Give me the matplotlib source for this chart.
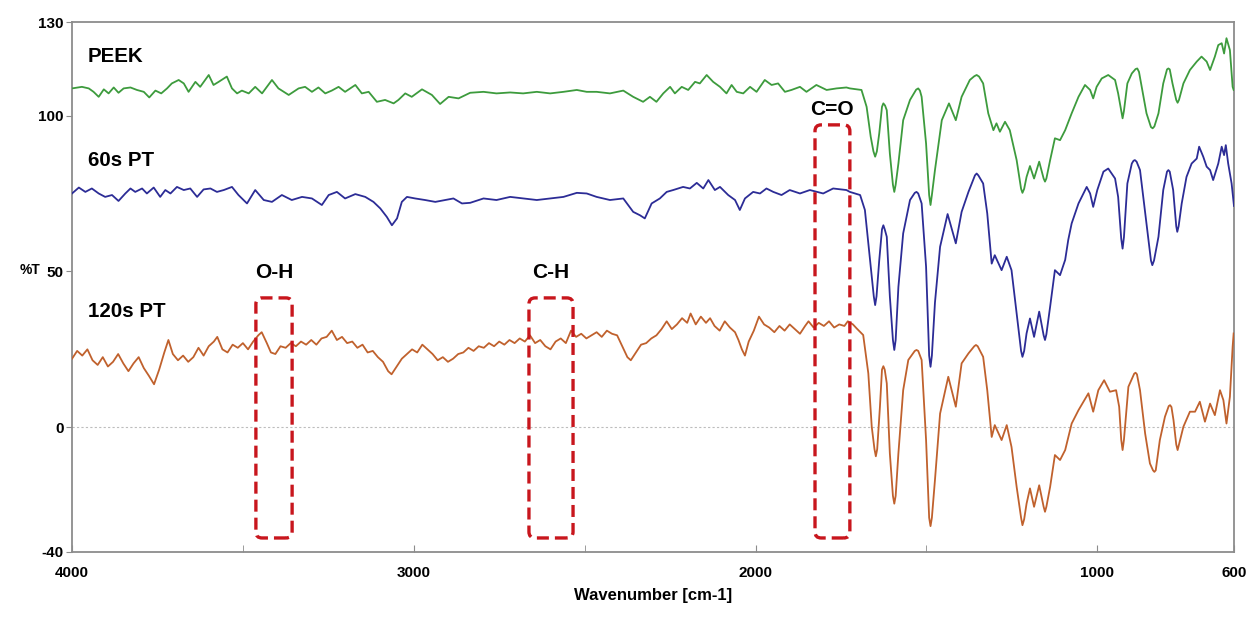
import matplotlib
matplotlib.use("Agg")
import numpy as np
import matplotlib.pyplot as plt
from matplotlib.patches import FancyBboxPatch

plt.rcParams['font.family'] = ['Liberation Sans', 'DejaVu Sans']
plt.rcParams['font.weight'] = 'bold'
plt.rcParams['axes.unicode_minus'] = False

# ---------------- data ----------------
peek_wn = [4000, 3971, 3951, 3937, 3922, 3907, 3893, 3878, 3864, 3849,
           3829, 3810, 3790, 3774, 3756, 3739, 3722, 3708, 3688, 3673,
           3659, 3639, 3625, 3600, 3586, 3571, 3547, 3532, 3517, 3503,
           3483, 3464, 3444, 3415, 3396, 3366, 3337, 3318, 3298, 3279,
           3259, 3240, 3220, 3201, 3171, 3152, 3132, 3108, 3084, 3059,
           3045, 3025, 3006, 2976, 2947, 2923, 2898, 2869, 2835,
           2796, 2758, 2718, 2680, 2640, 2601, 2562, 2523, 2494, 2465,
           2426, 2387, 2358, 2329, 2309, 2290, 2270, 2250, 2236, 2216,
           2197, 2177, 2163, 2143, 2124, 2104, 2085, 2070, 2055, 2036,
           2016, 1997, 1973, 1953, 1934, 1914, 1895, 1870, 1851, 1822,
           1792, 1763, 1734,
           1724, 1690, 1675, 1663, 1650, 1638, 1626, 1616, 1607, 1594,
           1582, 1568, 1548, 1524, 1514, 1501, 1488, 1475, 1455, 1434,
           1414, 1397, 1373, 1353, 1334, 1319, 1304, 1295, 1285, 1270,
           1256, 1236, 1219, 1207, 1197, 1185, 1170, 1153, 1138, 1124,
           1109, 1094, 1075, 1055, 1036, 1021, 1012, 1002, 987, 968,
           948, 939, 926, 912, 899, 883, 870, 856, 838, 821,
           807, 792, 780, 765, 748, 729, 709, 695, 680, 670,
           656, 646, 636, 629, 622, 612, 604, 601]
peek_t = [108.7, 109.2, 108.7, 107.6, 106.0, 108.4, 107.1, 109.0, 107.3, 108.7,
          109.0, 108.2, 107.6, 105.8, 108.0, 107.1, 108.7, 110.3, 111.4, 110.3,
          107.6, 110.8, 109.2, 113.0, 109.8, 110.8, 112.5, 108.7, 107.1, 108.0,
          107.1, 109.2, 107.1, 111.4, 108.7, 106.6, 108.7, 109.2, 107.6, 109.0,
          107.1, 108.0, 109.2, 107.6, 109.8, 107.1, 107.6, 104.4, 105.0, 103.9,
          105.0, 107.1, 106.0, 108.4, 106.6, 103.7, 106.0, 105.5, 107.3,
          107.6, 107.1, 107.4, 107.1, 107.6, 107.1, 107.6, 108.2, 107.6, 107.6,
          107.1, 108.0, 106.0, 104.4, 106.0, 104.4, 107.1, 109.2, 107.1, 109.2,
          108.2, 110.8, 110.3, 113.0, 110.8, 109.2, 107.1, 109.8, 107.6, 107.1,
          109.2, 107.6, 111.4, 109.8, 110.3, 107.6, 108.2, 109.2, 107.6, 109.8,
          108.2, 108.7, 109.0,
          108.7, 108.2, 102.8, 93.2, 86.8, 94.3, 103.9, 101.7, 87.8, 75.5,
          84.6, 98.5, 105.0, 108.7, 106.0, 91.0, 71.3, 82.5, 98.5, 103.9,
          98.5, 106.0, 111.4, 113.0, 110.3, 100.7, 95.3, 97.5, 94.8, 98.0,
          95.3, 85.7, 75.2, 80.3, 83.8, 79.8, 85.2, 78.8, 85.7, 92.7,
          92.1, 95.3, 100.7, 106.0, 109.8, 108.2, 105.5, 109.2, 111.9, 113.0,
          111.4, 107.1, 99.1, 110.3, 113.5, 115.1, 109.2, 100.7, 95.9, 100.7,
          110.3, 115.1, 110.3, 104.1, 110.3, 114.6, 117.3, 118.9, 117.3, 114.6,
          118.9, 122.6, 123.2, 119.9, 124.8, 121.0, 109.2, 108.2]
# extra readings around the band extrema (rounded tips)
peek_wn_extra = [1655, 1645, 1630, 1621, 1598, 1590, 1530, 1519, 1492, 1484,
                 1360, 1346, 1223, 1214, 1157, 1149, 930, 922, 888, 878,
                 843, 833, 796, 788, 769, 761]
peek_t_extra = [88.5, 88.5, 102.8, 103.2, 77.8, 77.8, 108.3, 108.0, 74.5, 74.5,
                112.6, 112.5, 76.5, 76.5, 79.8, 79.8, 101.5, 101.5, 114.9, 114.0,
                96.3, 96.5, 114.8, 114.8, 105.0, 105.0]

pt60_wn = [4000, 3980, 3961, 3942, 3922, 3903, 3883, 3864, 3844, 3829,
           3815, 3795, 3781, 3761, 3742, 3727, 3712, 3693, 3673, 3654,
           3634, 3615, 3595, 3576, 3556, 3532, 3513, 3488, 3464, 3439,
           3415, 3386, 3357, 3327, 3298, 3269, 3249, 3225, 3201, 3171,
           3142, 3118, 3098, 3079, 3064, 3049, 3035, 3020, 2996, 2967,
           2937, 2908, 2884, 2859, 2835,
           2796, 2758, 2718, 2680, 2640, 2601, 2562, 2523, 2494, 2465,
           2426, 2387, 2358, 2338, 2324, 2304, 2280, 2260, 2241, 2212,
           2192, 2172, 2153, 2138, 2119, 2104, 2080, 2060, 2046, 2031,
           2007, 1987, 1968, 1948, 1924, 1900, 1870, 1841, 1802, 1773,
           1734,
           1724, 1694, 1680, 1667, 1650, 1638, 1626, 1616, 1607, 1594,
           1582, 1568, 1548, 1529, 1514, 1501, 1488, 1475, 1460, 1438,
           1414, 1397, 1377, 1353, 1334, 1322, 1309, 1300, 1280, 1265,
           1251, 1236, 1219, 1207, 1197, 1185, 1170, 1153, 1138, 1124,
           1109, 1094, 1085, 1075, 1055, 1031, 1021, 1012, 1000, 982,
           968, 948, 939, 926, 912, 899, 890, 875, 856, 839,
           821, 807, 792, 778, 766, 753, 739, 724, 709, 702,
           690, 680, 670, 661, 646, 636, 629, 624, 617, 607,
           602, 600]
pt60_t = [75.0, 76.9, 75.5, 76.6, 75.0, 73.9, 74.5, 72.6, 75.0, 76.6,
          75.5, 76.6, 75.0, 76.9, 73.9, 76.1, 75.0, 77.1, 76.1, 76.6,
          73.9, 76.3, 76.6, 75.5, 76.1, 77.1, 74.5, 71.8, 76.1, 72.9,
          72.3, 74.5, 72.9, 73.9, 73.4, 71.3, 74.5, 75.5, 73.4, 74.8,
          73.9, 72.3, 70.2, 67.5, 64.8, 67.0, 72.3, 73.9, 73.4, 72.9,
          72.3, 72.9, 73.4, 71.8, 72.0,
          73.4, 72.9, 73.9, 73.4, 72.9, 73.4, 73.9, 75.2, 75.0, 73.9,
          72.9, 73.4, 69.1, 68.0, 67.0, 71.8, 73.4, 75.5, 76.1, 77.1,
          76.6, 78.4, 76.6, 79.3, 76.1, 77.1, 74.5, 72.9, 69.7, 73.4,
          75.5, 75.0, 76.6, 75.5, 74.5, 76.1, 75.0, 76.1, 75.0, 76.6,
          76.1,
          75.5, 74.5, 69.7, 55.7, 39.2, 53.6, 64.8, 61.1, 42.0, 24.8,
          45.0, 62.2, 72.9, 75.5, 71.8, 51.5, 19.4, 40.0, 57.9, 68.4,
          59.0, 69.1, 75.5, 81.4, 78.2, 68.6, 52.5, 55.2, 50.4, 54.7,
          50.4, 36.5, 22.6, 30.1, 34.9, 29.0, 37.1, 28.0, 38.7, 50.4,
          48.8, 53.7, 60.1, 65.4, 71.8, 77.1, 75.0, 70.7, 76.1, 82.0,
          83.0, 79.8, 73.9, 57.3, 78.2, 84.6, 85.7, 82.5, 65.4, 52.0,
          61.1, 76.1, 82.5, 76.1, 62.7, 71.8, 80.3, 84.6, 86.2, 90.0,
          86.8, 83.6, 82.5, 79.3, 84.6, 90.0, 87.3, 90.5, 84.6, 78.2,
          72.9, 71.0]
pt60_wn_extra = [1654, 1646, 1630, 1622, 1598, 1590, 1534, 1524, 1492, 1484,
                 1358, 1348, 1223, 1214, 1157, 1149, 930, 922, 894, 885,
                 843, 834, 796, 788, 769, 762]
pt60_t_extra = [42.0, 42.0, 63.5, 63.5, 28.0, 28.0, 75.2, 75.0, 23.0, 23.0,
                80.8, 80.8, 24.5, 24.5, 29.5, 29.8, 60.5, 61.0, 85.5, 85.2,
                53.5, 53.5, 82.0, 82.0, 64.5, 64.5]

pt120_wn = [4000, 3985, 3970, 3955, 3940, 3925, 3910, 3895, 3880, 3865,
            3850, 3835, 3820, 3805, 3790, 3775, 3760, 3745, 3730, 3718,
            3705, 3690, 3675, 3660, 3645, 3630, 3615, 3600, 3585, 3575,
            3560, 3545, 3530, 3515, 3500, 3485, 3470, 3455, 3445, 3430,
            3418, 3405, 3390, 3375, 3360, 3345, 3330, 3315, 3300, 3285,
            3270, 3255, 3240, 3225, 3210, 3195, 3180, 3165, 3150, 3135,
            3120, 3105, 3090, 3075, 3065, 3050, 3035, 3020, 3005, 2990,
            2975, 2960, 2945, 2930, 2915, 2900, 2885, 2870, 2855, 2840,
            2825, 2810, 2795, 2780, 2765, 2750, 2735, 2720, 2705, 2690,
            2675, 2660, 2645, 2630, 2615, 2600, 2585, 2570, 2555, 2540,
            2525, 2510, 2495, 2480, 2465, 2450, 2435, 2420, 2405, 2390,
            2375, 2365, 2350, 2335, 2320, 2305, 2290, 2275, 2260, 2245,
            2230, 2215, 2200, 2190, 2175, 2160, 2145, 2133, 2120, 2105,
            2090, 2075, 2060, 2050, 2040, 2031, 2020, 2005, 1990, 1975,
            1960, 1945, 1930, 1915, 1900, 1885, 1870, 1855, 1845, 1830,
            1815, 1800, 1785, 1770, 1755, 1740, 1730,
            1715, 1704, 1685, 1670, 1660, 1648, 1636, 1626, 1616, 1607,
            1594, 1582, 1568, 1553, 1529, 1514, 1501, 1488, 1475, 1460,
            1436, 1414, 1397, 1377, 1355, 1334, 1322, 1309, 1300, 1280,
            1265, 1251, 1236, 1219, 1207, 1197, 1185, 1170, 1153, 1138,
            1124, 1109, 1094, 1075, 1055, 1026, 1012, 997, 980, 963,
            945, 936, 926, 909, 888, 875, 860, 846, 833, 817,
            802, 787, 777, 765, 748, 729, 714, 700, 685, 670,
            656, 641, 631, 622, 612, 604, 601]
pt120_t = [22.0, 24.5, 23.0, 25.0, 21.5, 20.0, 22.5, 19.5, 21.0, 23.5,
           20.5, 18.0, 20.5, 22.5, 19.0, 16.5, 13.8, 18.5, 24.0, 28.0,
           23.5, 21.5, 23.0, 21.0, 22.5, 25.5, 23.0, 26.0, 27.5, 29.0,
           25.0, 24.0, 26.5, 25.5, 27.0, 25.0, 27.5, 29.5, 30.5, 27.0,
           24.0, 23.5, 26.0, 25.5, 27.0, 26.0, 27.5, 26.5, 28.0, 26.5,
           28.5, 29.0, 31.0, 28.0, 29.0, 27.0, 27.5, 25.5, 26.5, 24.0,
           24.5, 22.5, 21.0, 18.0, 17.0, 19.5, 22.0, 23.5, 25.0, 24.0,
           26.5, 25.0, 23.5, 21.5, 22.5, 21.0, 22.0, 23.5, 24.0, 25.5,
           24.5, 26.0, 25.5, 27.0, 26.0, 27.5, 26.5, 28.0, 27.0, 28.5,
           27.5, 29.5, 27.0, 28.0, 26.0, 25.0, 27.5, 28.5, 27.0, 31.0,
           29.0, 30.0, 28.5, 29.5, 30.5, 29.0, 31.0, 30.0, 29.5, 26.0,
           22.5, 21.5, 24.0, 26.5, 27.0, 28.5, 29.5, 31.5, 34.0, 31.5,
           33.0, 35.0, 33.5, 36.5, 33.0, 35.5, 33.5, 35.0, 32.5, 31.0,
           34.0, 32.0, 30.5, 28.0, 25.0, 23.0, 27.5, 31.0, 35.5, 33.0,
           32.0, 30.5, 32.5, 31.0, 33.0, 31.5, 30.0, 32.5, 34.0, 32.0,
           33.5, 32.5, 34.0, 32.0, 33.0, 32.5, 34.0,
           33.0, 31.7, 29.6, 17.3, 0.2, -9.3, 6.6, 19.6, 14.1, -8.4,
           -24.5, -8.4, 11.9, 21.6, 24.8, 21.6, -4.1, -31.7, -16.9, 4.4,
           16.2, 6.6, 20.5, 23.7, 26.4, 22.6, 11.9, -3.1, 0.7, -4.1,
           0.7, -6.3, -19.1, -31.4, -24.5, -19.6, -25.5, -18.6, -27.1, -19.1,
           -8.9, -10.5, -7.3, 1.2, 5.5, 10.9, 5.0, 11.9, 15.1, 11.4,
           11.9, 6.6, -7.3, 13.0, 17.5, 11.9, -2.0, -11.6, -14.3, -4.1,
           3.4, 7.1, 2.3, -7.3, 0.2, 5.0, 5.0, 8.2, 1.8, 7.6,
           3.9, 11.9, 8.7, 1.2, 9.8, 25.8, 30.1]
pt120_wn_extra = [1652, 1644, 1630, 1622, 1598, 1590, 1534, 1524, 1492, 1484,
                  1360, 1350, 1223, 1214, 1157, 1149, 930, 922, 892, 884,
                  837, 829, 791, 783, 769, 761]
pt120_t_extra = [-7.0, -7.0, 18.5, 18.5, -22.0, -22.0, 24.5, 24.5, -29.0, -29.0,
                 26.0, 26.0, -29.0, -29.5, -25.5, -25.5, -4.0, -4.0, 17.2, 17.0,
                 -13.8, -13.8, 6.8, 6.5, -5.5, -5.5]

series_names = ['PEEK', '60s PT', '120s PT']
series_colors = ['#3d9b3d', '#2c2c96', '#c0612d']
label_pos = [(3953, 118.8), (3953, 85.7), (3953, 37.3)]

# band boxes: (label, wn_low, wn_high, t_low, t_high, label_t)
bands = [('O-H', 3356, 3462, -35.5, 41.5, 49.8),
         ('C-H', 2534, 2663, -35.5, 41.5, 49.8),
         ('C=O', 1724, 1826, -35.5, 97.0, 101.8)]


def merged(wn, t, wn_x, t_x):
    w = np.array(wn + wn_x, dtype=float)
    v = np.array(t + t_x, dtype=float)
    order = np.argsort(-w)
    return w[order], v[order]


# ---------------- plot ----------------
fig = plt.figure(figsize=(12.57, 6.18), dpi=100)
ax = fig.add_axes([0.0573, 0.1068, 0.9244, 0.8576])

curves = [merged(peek_wn, peek_t, peek_wn_extra, peek_t_extra),
          merged(pt60_wn, pt60_t, pt60_wn_extra, pt60_t_extra),
          merged(pt120_wn, pt120_t, pt120_wn_extra, pt120_t_extra)]
for (wn, t), c in zip(curves, series_colors):
    ax.plot(wn, t, color=c, lw=1.3, zorder=3, solid_joinstyle='round')

ax.axhline(0, color='#bdbdbd', lw=0.8, ls=(0, (2, 2)), zorder=1)

for name, (x, y) in zip(series_names, label_pos):
    ax.text(x, y, name, fontsize=14.8, fontweight='bold', ha='left', va='center')

for name, lo, hi, b, t, ly in bands:
    box = FancyBboxPatch((lo, b), hi - lo, t - b,
                         boxstyle='round,pad=0,rounding_size=18',
                         mutation_aspect=0.11, fill=False,
                         ec='#c8161d', lw=2.4, ls=(0, (3.6, 1.8)), zorder=4)
    ax.add_patch(box)
    ax.text((lo + hi) / 2, ly, name, fontsize=15, fontweight='bold',
            ha='center', va='center')

ax.set_xlim(4000, 600)
ax.set_ylim(-40, 130)
ax.set_xticks([4000, 3000, 2000, 1000, 600])
ax.set_xticks([3500, 2500, 1500], minor=True)
ax.set_yticks([130, 100, 50, 0, -40])
ax.tick_params(axis='x', which='both', direction='in', length=5, color='#8c8c8c',
               labelsize=11, pad=10)
ax.tick_params(axis='y', direction='out', length=4, color='#8c8c8c',
               labelsize=11, pad=2)
for lab in ax.get_xticklabels() + ax.get_yticklabels():
    lab.set_fontweight('bold')

for sp in ax.spines.values():
    sp.set_color('#8c8c8c')
    sp.set_linewidth(1.3)

ax.set_xlabel('Wavenumber [cm-1]', fontsize=12, fontweight='bold', labelpad=6)
fig.text(0.016, 1 - 270 / 618, '%T', fontsize=10, fontweight='bold', va='center')

fig.savefig('out.png', dpi=100)
